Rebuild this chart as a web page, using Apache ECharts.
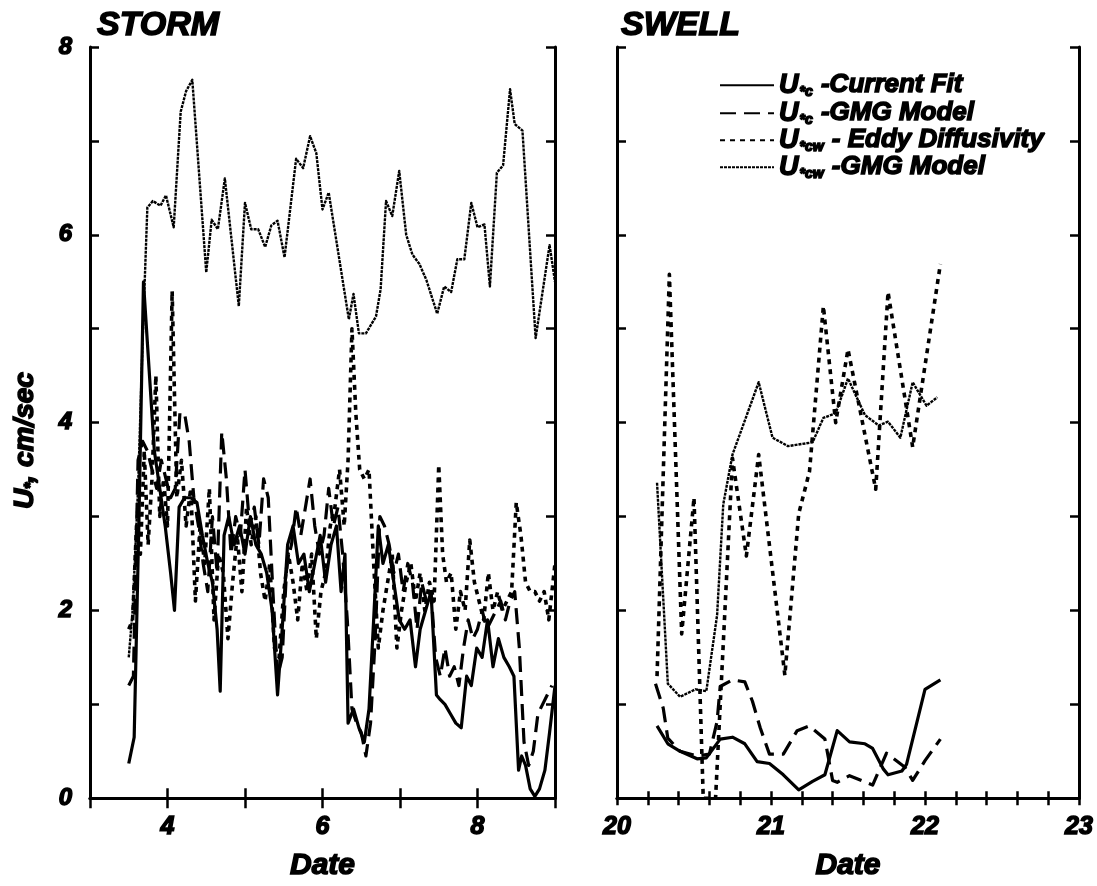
<!DOCTYPE html>
<html><head><meta charset="utf-8">
<script src="https://cdn.jsdelivr.net/npm/echarts@6/dist/echarts.min.js"></script>
<style>html,body{margin:0;padding:0;background:#fff}#c{width:1097px;height:886px}</style>
</head><body><div id="c"></div>
<script>
// ---------- DATA ----------
var panelTitles = ['STORM', 'SWELL'];
var seriesNames = ['Current Fit', 'GMG c', 'Eddy Diffusivity', 'GMG cw'];
var yTicks = [0, 2, 4, 6, 8];
var stormXTicks = [4, 6, 8];
var swellXTicks = [20, 21, 22, 23];

// STORM panel
var stormFitX = [3.50,3.57,3.63,3.69,3.76,3.83,3.90,3.97,4.04,4.09,4.15,4.22,4.30,4.38,4.45,4.52,4.58,4.64,4.68,4.73,4.79,4.86,4.93,5.00,5.07,5.14,5.21,5.28,5.35,5.42,5.48,5.55,5.62,5.69,5.76,5.83,5.90,5.97,6.04,6.11,6.18,6.24,6.29,6.33,6.40,6.47,6.54,6.60,6.66,6.72,6.78,6.85,6.92,6.99,7.06,7.13,7.20,7.26,7.33,7.40,7.47,7.52,7.58,7.65,7.72,7.79,7.86,7.92,7.99,8.06,8.13,8.20,8.27,8.34,8.41,8.47,8.53,8.57,8.62,8.68,8.74,8.80,8.87,8.93,9.00];
var stormFitY = [0.37,0.65,2.9,5.5,4.6,3.7,3.3,2.9,2.4,2.0,3.1,3.2,3.2,3.15,2.8,2.5,2.3,1.8,1.14,2.8,3.0,2.7,2.9,2.6,3.0,2.7,2.6,2.4,2.0,1.1,1.8,2.7,2.9,2.5,2.6,2.2,2.5,2.8,2.3,2.7,2.9,2.2,2.6,0.8,0.95,0.75,0.6,0.95,1.9,2.9,2.5,2.7,2.3,1.9,1.8,1.9,1.4,1.8,2.0,2.2,1.1,1.05,1.0,0.9,0.8,0.75,1.3,1.2,1.6,1.5,1.9,1.4,1.7,1.5,1.4,1.3,0.3,0.45,0.35,0.1,0.02,0.1,0.3,0.7,1.2];

var stormGmgcX = [3.50,3.56,3.62,3.68,3.74,3.80,3.86,3.92,3.98,4.04,4.10,4.16,4.22,4.28,4.34,4.40,4.46,4.52,4.58,4.64,4.70,4.76,4.82,4.88,4.94,5.00,5.06,5.12,5.18,5.24,5.30,5.36,5.42,5.48,5.54,5.60,5.66,5.72,5.78,5.84,5.90,5.96,6.02,6.08,6.14,6.20,6.26,6.32,6.38,6.44,6.50,6.56,6.62,6.68,6.74,6.80,6.86,6.92,6.98,7.04,7.10,7.16,7.22,7.28,7.34,7.40,7.46,7.52,7.58,7.64,7.70,7.76,7.82,7.88,7.94,8.00,8.06,8.12,8.18,8.24,8.30,8.36,8.42,8.48,8.54,8.60,8.66,8.72,8.78,8.84,8.90,8.96];
var stormGmgcY = [1.2,1.3,3.6,3.8,3.7,3.5,3.3,3.6,3.4,3.2,3.3,4.1,4.1,3.8,3.2,2.9,2.5,2.2,3.0,2.4,3.9,3.4,2.6,3.0,2.8,3.5,2.9,3.1,2.7,3.4,3.2,2.2,1.3,1.5,2.5,2.7,3.1,2.8,3.1,3.4,2.9,2.6,2.8,3.3,2.9,3.1,2.6,1.9,0.95,0.8,0.7,0.45,0.8,1.7,3.0,2.9,2.7,2.4,2.6,2.2,2.5,2.3,1.8,2.3,2.1,2.2,1.5,1.3,1.6,1.3,1.4,1.2,1.6,1.9,1.7,1.8,2.0,1.8,1.9,2.0,2.1,1.9,2.1,2.2,1.6,0.6,0.35,0.5,0.9,1.0,1.1,1.2];

var stormEddyX = [3.50,3.55,3.60,3.65,3.70,3.75,3.80,3.85,3.90,3.95,4.00,4.06,4.12,4.18,4.24,4.30,4.36,4.42,4.48,4.54,4.60,4.66,4.72,4.78,4.84,4.90,4.96,5.02,5.08,5.14,5.20,5.26,5.32,5.38,5.44,5.50,5.56,5.62,5.68,5.74,5.80,5.86,5.92,5.98,6.04,6.10,6.16,6.22,6.28,6.33,6.38,6.43,6.48,6.54,6.60,6.66,6.72,6.78,6.84,6.90,6.96,7.02,7.08,7.14,7.20,7.26,7.32,7.38,7.44,7.50,7.55,7.60,7.66,7.72,7.78,7.84,7.90,7.96,8.02,8.08,8.14,8.20,8.26,8.32,8.38,8.44,8.50,8.56,8.62,8.68,8.74,8.80,8.86,8.92,9.00];
var stormEddyY = [1.8,1.9,2.9,2.6,3.7,2.7,3.4,4.5,3.0,3.4,2.9,5.4,3.2,3.6,2.9,3.3,2.1,2.9,2.5,3.3,1.9,2.6,2.4,1.7,2.3,2.8,2.2,3.1,2.7,3.0,2.4,2.1,2.5,1.6,1.5,2.2,2.6,2.3,1.9,2.5,2.2,2.6,1.7,2.2,2.4,2.9,3.1,3.5,2.9,3.6,5.0,4.1,3.5,3.4,3.5,2.5,1.6,2.0,2.3,2.6,1.6,2.0,2.3,2.5,2.1,2.4,2.0,2.3,2.1,3.55,2.6,2.3,2.4,1.8,2.2,2.0,2.75,2.3,2.1,1.9,2.4,2.0,2.2,2.0,2.1,2.2,3.15,2.8,2.3,2.2,2.2,2.1,2.2,1.9,2.5];

var stormGmgcwX = [3.50,3.55,3.62,3.68,3.74,3.81,3.85,3.91,3.98,4.08,4.17,4.24,4.32,4.50,4.57,4.65,4.74,4.92,5.00,5.08,5.17,5.26,5.34,5.42,5.51,5.66,5.75,5.84,5.92,6.00,6.08,6.34,6.40,6.47,6.56,6.69,6.75,6.82,6.90,6.99,7.08,7.16,7.25,7.34,7.48,7.57,7.66,7.74,7.83,7.92,8.00,8.09,8.16,8.25,8.33,8.42,8.48,8.58,8.75,8.93,9.00];
var stormGmgcwY = [1.5,2.0,3.3,4.9,6.29,6.36,6.34,6.31,6.42,6.08,7.31,7.53,7.65,5.60,6.16,6.06,6.60,5.24,6.34,6.06,6.06,5.87,6.10,6.15,5.76,6.81,6.71,7.05,6.87,6.27,6.45,5.10,5.37,4.95,4.95,5.13,5.42,6.36,6.20,6.68,6.00,5.79,5.69,5.52,5.16,5.45,5.39,5.74,5.74,6.34,6.08,6.11,5.45,6.66,6.74,7.55,7.18,7.11,4.90,5.89,5.50];

// SWELL panel
var swellFitX = [20.26,20.33,20.41,20.52,20.58,20.67,20.75,20.83,20.91,20.99,21.08,21.18,21.27,21.35,21.43,21.51,21.61,21.66,21.73,21.76,21.85,21.88,22.00,22.10];
var swellFitY = [0.77,0.58,0.50,0.42,0.43,0.63,0.65,0.58,0.39,0.37,0.25,0.09,0.18,0.25,0.72,0.60,0.58,0.53,0.31,0.25,0.29,0.36,1.16,1.26];

var swellGmgcX = [20.25,20.30,20.33,20.41,20.52,20.60,20.65,20.67,20.75,20.83,20.88,20.93,20.99,21.08,21.17,21.25,21.35,21.40,21.43,21.51,21.66,21.75,21.87,21.92,22.00,22.10];
var swellGmgcY = [1.22,0.96,0.64,0.50,0.45,0.47,0.82,1.19,1.26,1.24,1.03,0.75,0.47,0.47,0.72,0.77,0.63,0.19,0.17,0.24,0.14,0.48,0.33,0.19,0.40,0.63];

var swellEddyX = [20.26,20.34,20.42,20.50,20.56,20.64,20.75,20.84,20.92,21.09,21.18,21.25,21.34,21.42,21.50,21.68,21.76,21.92,22.10];
var swellEddyY = [1.3,5.58,1.75,3.2,0.0,0.0,3.62,2.58,3.66,1.31,3.03,3.48,5.24,4.0,4.78,3.29,5.39,3.74,5.69];

var swellGmgcwX = [20.26,20.33,20.41,20.51,20.58,20.65,20.69,20.75,20.92,21.01,21.11,21.27,21.34,21.42,21.50,21.61,21.70,21.76,21.84,21.92,22.01,22.08];
var swellGmgcwY = [3.36,1.22,1.08,1.16,1.14,1.95,3.13,3.66,4.43,3.84,3.75,3.79,4.05,4.10,4.47,4.08,3.97,4.01,3.84,4.43,4.18,4.27];

// ---------- CHART ----------
function zip(x, y) { return x.map(function (v, i) { return [v, y[i]]; }); }
var FONT = 'Liberation Sans, Arial, sans-serif';
var heavy = { fontFamily: FONT, fontWeight: 'bold', fontStyle: 'italic', color: '#000', textBorderColor: '#000', textBorderWidth: 1.5 };
function ts(size, extra) { var o = Object.assign({}, heavy, { fontSize: size }); return Object.assign(o, extra || {}); }
function isInt(v) { return Math.abs(v - Math.round(v)) < 1e-6; }

var styles = {
  'Current Fit': { type: 'solid', width: 3.2 },
  'GMG c': { type: [16, 8], width: 3.2 },
  'Eddy Diffusivity': { type: [5, 5], width: 3.6 },
  'GMG cw': { type: [3, 1], width: 2.4 }
};
function mk(name, data, xi, yi) {
  return { name: name, type: 'line', xAxisIndex: xi, yAxisIndex: yi, data: data, symbol: 'none',
    lineStyle: Object.assign({ color: '#000', cap: 'butt', join: 'round' }, styles[name]), itemStyle: { color: '#000' },
    animation: false, z: 3 };
}

var axLine = { show: true, lineStyle: { color: '#000', width: 3 } };
function xAx(grid, pos, min, max, interval, labels, tickLen) {
  return { type: 'value', gridIndex: grid, position: pos, min: min, max: max, interval: interval,
    axisLine: axLine, splitLine: { show: false },
    axisTick: { show: true, inside: true, length: tickLen, lineStyle: { color: '#000', width: 2.5 } },
    axisLabel: labels ? { show: true, margin: 16, showMinLabel: true, showMaxLabel: true,
      formatter: function (v) { return (isInt(v) && labels.indexOf(Math.round(v)) >= 0) ? String(Math.round(v)) : ''; }, textStyle: ts(25) } : { show: false },
    name: labels ? 'Date' : '', nameLocation: 'middle', nameGap: 52, nameTextStyle: ts(30)
  };
}
function yAx(grid, pos, labels, withName) {
  return { type: 'value', gridIndex: grid, position: pos, min: 0, max: 8, interval: 1,
    axisLine: axLine, splitLine: { show: false },
    axisTick: { show: true, inside: true, length: 9, lineStyle: { color: '#000', width: 2.5 } },
    axisLabel: labels ? { show: true, margin: 18, formatter: function (v) { return labels.indexOf(v) >= 0 ? String(v) : ''; }, textStyle: ts(24) } : { show: false },
    name: withName ? '{a|U}{s|*}{a|, cm/sec}' : '', nameLocation: 'middle', nameGap: 50,
    nameTextStyle: ts(28, { padding: [0, 36, 0, 0], rich: { a: ts(28, { lineHeight: 30 }), s: ts(16, { lineHeight: 16, verticalAlign: 'bottom' }) } })
  };
}

var legendLabels = {
  'Current Fit': '{u|U}{s|*c}{t| -Current Fit}',
  'GMG c': '{u|U}{s|*c}{t| -GMG Model}',
  'Eddy Diffusivity': '{u|U}{s|*cw}{t| - Eddy Diffusivity}',
  'GMG cw': '{u|U}{s|*cw}{t| -GMG Model}'
};
var legendTops = [66, 94, 121, 148];
function mkLegend(i) {
  return {
    orient: 'vertical', left: 714, top: legendTops[i], itemWidth: 54, itemHeight: 14,
    data: [seriesNames[i]],
    itemStyle: { opacity: 0 },
    formatter: function (n) { return legendLabels[n]; },
    textStyle: { lineHeight: 27, rich: {
      u: ts(27, { lineHeight: 27 }),
      s: ts(14, { lineHeight: 14, verticalAlign: 'bottom', padding: [0, 1, 0, 1] }),
      t: ts(26, { lineHeight: 27 }) } },
    selectedMode: false
  };
}

var option = {
  backgroundColor: '#fff',
  animation: false,
  title: [
    { text: panelTitles[0], left: 92, top: 4, textStyle: ts(34) },
    { text: panelTitles[1], left: 616, top: 4, textStyle: ts(34) }
  ],
  grid: [
    { left: 90, top: 47, width: 465, height: 761 },
    { left: 617, top: 47, width: 462, height: 761 }
  ],
  xAxis: [
    xAx(0, 'bottom', 3, 9, 1, stormXTicks, 10),
    xAx(0, 'top', 3, 9, 1, null, 10),
    xAx(1, 'bottom', 20, 23, 0.2, swellXTicks, 7),
    xAx(1, 'top', 20, 23, 0.2, null, 7)
  ],
  yAxis: [
    yAx(0, 'left', yTicks, true),
    yAx(0, 'right', null, false),
    yAx(1, 'left', null, false),
    yAx(1, 'right', null, false)
  ],
  legend: [mkLegend(0), mkLegend(1), mkLegend(2), mkLegend(3)],
  series: [
    mk('Current Fit', zip(stormFitX, stormFitY), 0, 0),
    mk('GMG c', zip(stormGmgcX, stormGmgcY), 0, 0),
    mk('Eddy Diffusivity', zip(stormEddyX, stormEddyY), 0, 0),
    mk('GMG cw', zip(stormGmgcwX, stormGmgcwY), 0, 0),
    mk('Current Fit', zip(swellFitX, swellFitY), 2, 2),
    mk('GMG c', zip(swellGmgcX, swellGmgcY), 2, 2),
    mk('Eddy Diffusivity', zip(swellEddyX, swellEddyY), 2, 2),
    mk('GMG cw', zip(swellGmgcwX, swellGmgcwY), 2, 2)
  ]
};
var chart = echarts.init(document.getElementById('c'), null, { renderer: 'canvas' });
chart.setOption(option);
</script></body></html>
